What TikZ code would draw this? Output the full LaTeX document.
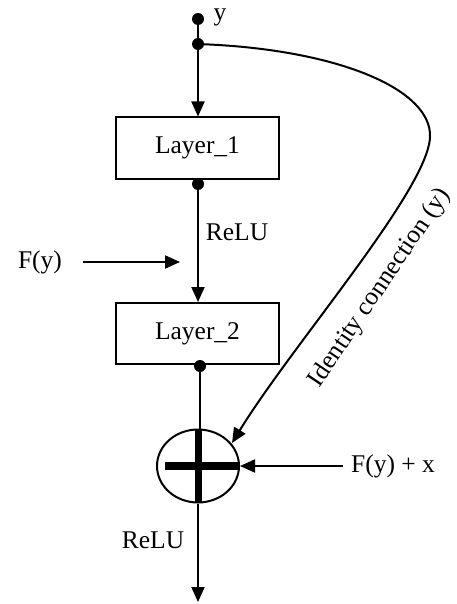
\documentclass[tikz,border=0pt]{standalone}
\usepackage{fontspec}
\setmainfont{Liberation Serif}
\usetikzlibrary{arrows.meta,shapes.geometric}
\begin{document}
\begin{tikzpicture}[x=1pt,y=-1pt,
  every node/.style={font=\fontsize{25.5}{30}\selectfont},
  conn/.style={line width=2pt,-{Triangle[length=15pt,width=13pt]}},
  plain/.style={line width=2pt},
  layerbox/.style={draw,line width=2pt,minimum width=163pt,minimum height=61pt,inner sep=0pt},
  dot/.style={circle,fill,inner sep=0pt,minimum size=12pt}]
\useasboundingbox (0,0) rectangle (456,604);
\node[dot] (d0) at (198,19) {};
\node[anchor=west] (ylab) at (210,17) {y};
\node[dot] (d1) at (198,44) {};
\node[layerbox] (l1) at (197.5,148) {Layer\_1};
\node[dot] (d2) at (198,184) {};
\node[layerbox] (l2) at (197.5,333.5) {Layer\_2};
\node[dot] (d3) at (200,366) {};
\node[ellipse,draw,line width=2pt,minimum width=82pt,minimum height=73pt,inner sep=0pt] (sum) at (198,466) {};
\fill (165,462) rectangle (238,470);
\fill (194.5,430) rectangle (201.5,503);
\coordinate (out) at (198,602);
\node (relu1) at (237,232) {ReLU};
\node (fy) at (40,262) {F(y)};
\coordinate (fya) at (83,262);
\coordinate (fyb) at (180,262);
\node[anchor=west,inner sep=1pt] (fyx) at (350,466) {F(y) + x};
\coordinate (fxa) at (343,466);
\node (relu2) at (153,540) {ReLU};
\draw[plain] (d0) -- (d1);
\draw[conn] (d1) -- (l1.north -| d1);
\draw[conn] (d2) -- (l2.north -| d2);
\draw[plain] (d3) -- (d3 |- sum.north);
\draw[conn] (sum.south -| d1) -- (out);
\draw[conn] (fya) -- (fyb);
\draw[conn] (fxa) -- (sum.east);
\draw[conn] (d1) .. controls (340,50) and (432,90) .. (430,137) .. controls (428,190) and (292,345) .. (232,443);
\node[rotate=56] (idc) at (380,288) {Identity connection (y)};
\end{tikzpicture}
\end{document}
